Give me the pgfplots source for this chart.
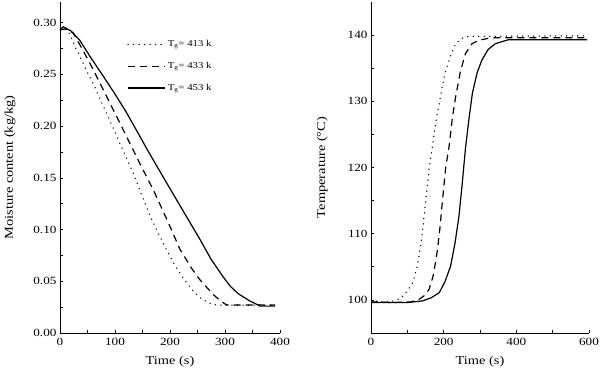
\documentclass[border=0pt]{standalone}
\usepackage{fontspec}
\setmainfont[FakeStretch=1.2]{Liberation Serif}
\usepackage{pgfplots}
\pgfplotsset{compat=1.18}
\begin{document}
\begin{tikzpicture}
\useasboundingbox (0,0) rectangle (600pt,371pt);
\pgfplotsset{
  common/.style={
    scale only axis, anchor=south west,
    axis x line*=bottom, axis y line*=left,
    axis line style={-, line width=0.7pt},
    tick align=inside, major tick length=3pt, minor tick length=3pt,
    minor tick num=1,
    tick style={line width=0.6pt, black},
    /pgf/number format/assume math mode=true,
    tick label style={font=\fontsize{11}{12}\selectfont},
    xticklabel style={yshift=-2pt},
    label style={font=\fontsize{12}{13}\selectfont},
    xlabel style={yshift=-3pt},
  },
  dotsty/.style={black, no marks, line width=1.5pt, line cap=round, dash pattern=on 0pt off 5.5pt},
  dashsty/.style={black, no marks, line width=1.2pt, dash pattern=on 7pt off 5pt},
  solsty/.style={black, no marks, solid, line width=1.2pt},
}
\begin{axis}[common,
  at={(60pt,38pt)}, width=220pt, height=331pt,
  xmin=0, xmax=400, ymin=0, ymax=0.32,
  xtick={0,100,200,300,400},
  ytick={0,0.05,0.10,0.15,0.20,0.25,0.30},
  yticklabel style={/pgf/number format/.cd, fixed, fixed zerofill, precision=2},
  xlabel={Time (s)}, ylabel={Moisture content (kg/kg)},
  ylabel style={yshift=11pt},
  legend style={draw=none, fill=none, at={(0.305,0.89)}, anchor=north west,
    font=\fontsize{9}{10}\selectfont, row sep=10pt, inner sep=0pt,
    /tikz/every even column/.append style={column sep=3pt}},
  legend cell align=left,
  legend image code/.code={\draw[#1] (0pt,0pt) -- (37pt,0pt);},
]
\addplot[dotsty] coordinates {
(0,0.293) (8,0.294) (18,0.289) (30,0.274) (48,0.254) (63,0.238) (79,0.219) (100,0.194)
(116,0.175) (133,0.155) (148,0.134) (164,0.113) (178,0.097) (191,0.083) (207,0.067)
(224,0.053) (240,0.042) (255,0.034) (270,0.029) (285,0.027) (300,0.027) (391,0.027)};
\addlegendentry{T\textsubscript{g}= 413 k}
\addplot[dashsty] coordinates {
(0,0.293) (10,0.294) (24,0.290) (40,0.275) (61,0.254) (91,0.222) (121,0.190)
(145,0.164) (170,0.138) (195,0.109) (218,0.081) (240,0.062) (255,0.051) (279,0.037)
(292,0.031) (303,0.027) (391,0.027)};
\addlegendentry{T\textsubscript{g}= 433 k}
\addplot[solsty] coordinates {
(0,0.293) (6,0.296) (20,0.292) (36,0.283) (55,0.267) (79,0.248) (100,0.231)
(121,0.213) (139,0.196) (160,0.176) (194,0.145) (225,0.117) (255,0.090) (275,0.071)
(297,0.054) (310,0.045) (324,0.038) (345,0.031) (364,0.026) (391,0.026)};
\addlegendentry{T\textsubscript{g}= 453 k}
\end{axis}
\begin{axis}[common,
  at={(371pt,38pt)}, width=218pt, height=331pt,
  xmin=0, xmax=600, ymin=95, ymax=145,
  xtick={0,200,400,600},
  ytick={100,110,120,130,140},
  xlabel={Time (s)}, ylabel={Temperature (°C)},
  ylabel style={yshift=13pt},
]
\addplot[dotsty] coordinates {
(0,99.9) (43,99.7) (70,99.9) (88,100.6) (102,101.5) (115,102.6) (127,105.0) (138,108.6)
(151,115.2) (160,119.8) (169,123.2) (178,126.8) (188,129.7) (197,132.5) (206,134.7)
(220,137.0) (233,138.7) (250,139.5) (269,139.8) (595,139.9)};
\addplot[dashsty] coordinates {
(0,99.7) (60,99.6) (110,99.7) (133,100.1) (148,100.7) (160,101.6) (172,103.8) (183,107.6)
(190,111.0) (197,115.2) (206,120.2) (215,123.2) (224,127.5) (233,130.7) (246,134.5)
(260,137.2) (278,138.7) (296,139.2) (330,139.6) (595,139.6)};
\addplot[solsty] coordinates {
(0,99.6) (100,99.6) (142,99.85) (165,100.3) (188,101.1) (204,102.8) (219,105.1)
(231,108.5) (242,112.6) (251,117.5) (260,122.9) (270,127.5) (279,131.2) (292,134.3)
(305,136.2) (322,137.8) (342,138.7) (378,139.3) (595,139.3)};
\end{axis}
\end{tikzpicture}
\end{document}
